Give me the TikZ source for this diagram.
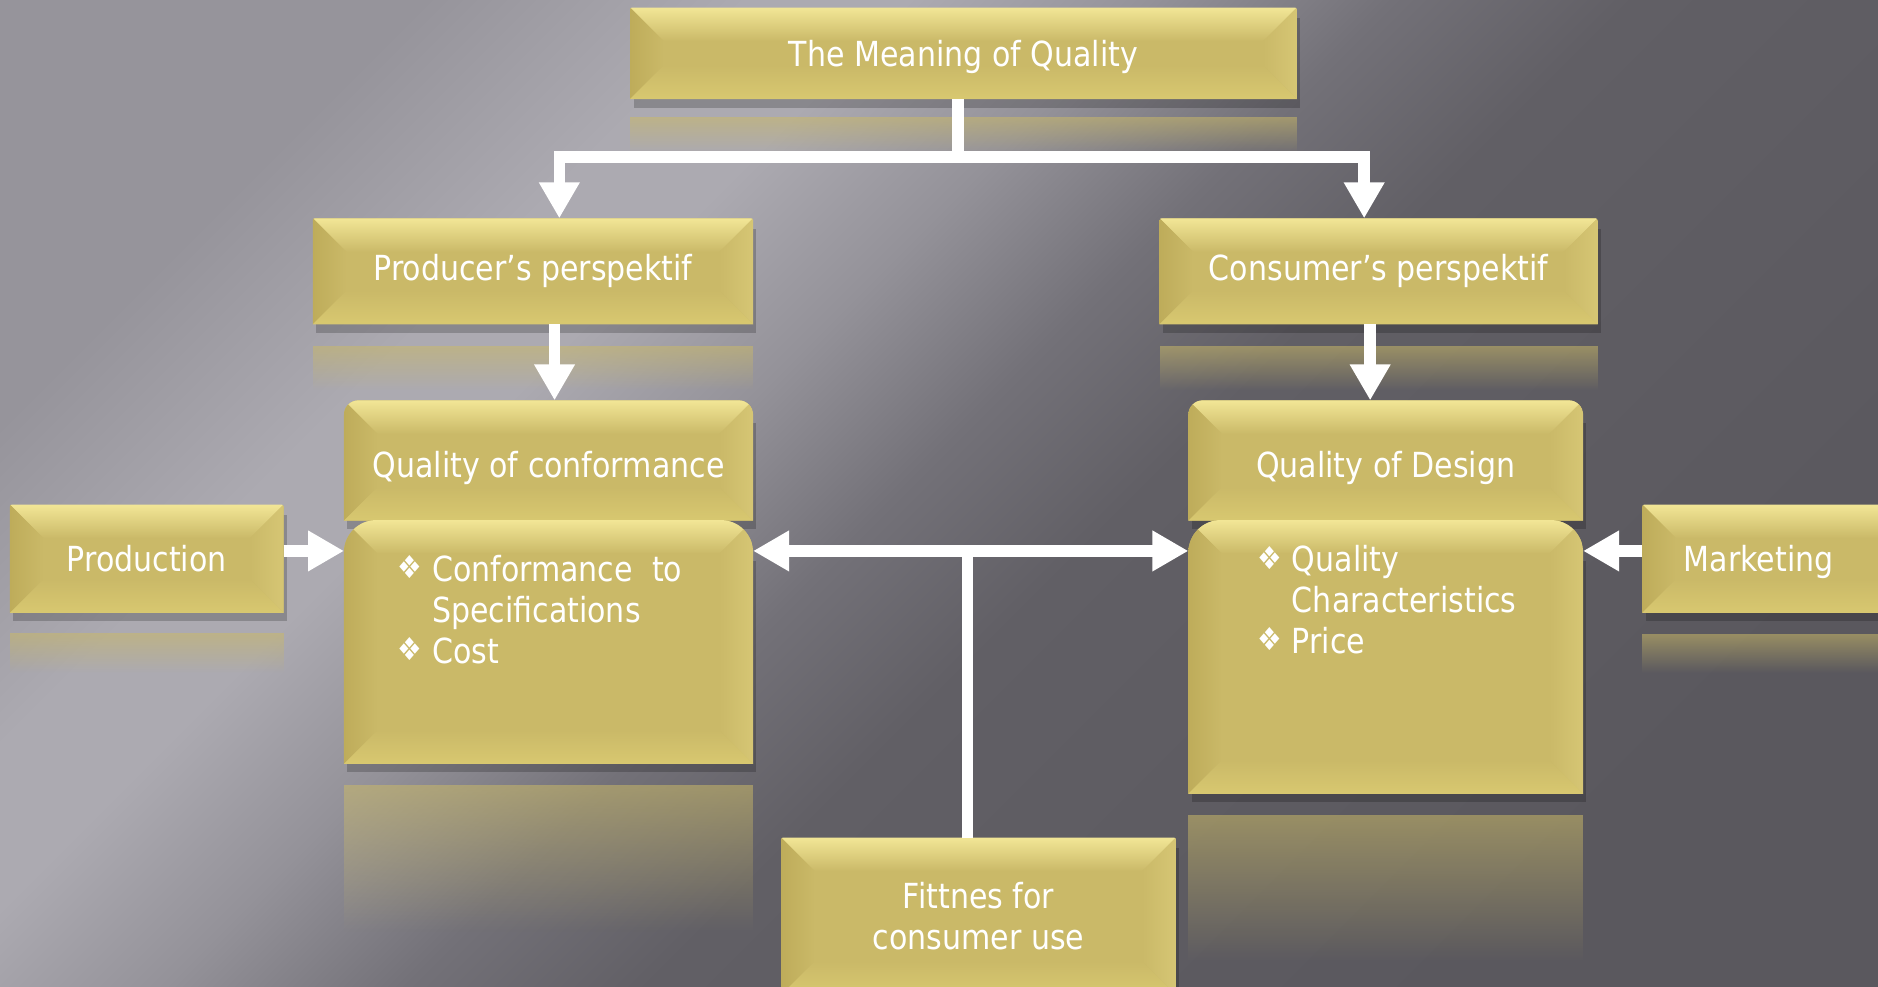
\documentclass[tikz,border=0pt]{standalone}
\usepackage{fontspec}
\setmainfont{DejaVu Sans}[FakeStretch=0.87]
\usetikzlibrary{arrows.meta,fadings,calc}
\pgfdeclarelayer{back}
\pgfdeclarelayer{bg}
\pgfsetlayers{back,bg,main}
\definecolor{gbase}{RGB}{202,185,104}
\definecolor{glight}{RGB}{242,230,150}
\definecolor{gleft}{RGB}{190,172,90}
\definecolor{gright}{RGB}{214,198,116}
\definecolor{gbot}{RGB}{216,200,112}
\definecolor{bgA}{RGB}{150,148,155}
\definecolor{bgB}{RGB}{172,170,177}
\definecolor{bgC}{RGB}{172,170,177}
\definecolor{bgD}{RGB}{148,146,153}
\definecolor{bgE}{RGB}{115,113,120}
\definecolor{bgF}{RGB}{97,95,101}
\definecolor{bgG}{RGB}{90,88,94}
\pgfdeclarehorizontalshading{bgsh}{100bp}{color(0bp)=(bgA); color(25bp)=(bgA); color(33bp)=(bgB); color(37bp)=(bgC); color(43bp)=(bgD); color(49bp)=(bgE); color(55bp)=(bgF); color(75bp)=(bgG); color(100bp)=(bgG)}
\tikzfading[name=reflfade, top color=transparent!45, bottom color=transparent!100]
\newcommand\tfont{\fontsize{8.2}{9.7}\selectfont}
\newcommand\bul{\raisebox{0.15ex}{\fontsize{7.5}{7.5}\selectfont ❖}}
\newcommand\dropby[2]{\raisebox{-#1}[\height][\depth]{#2}}
\newcommand\bvw{0.28cm}
\newcommand\gbox[2]{%
  \fill[black,opacity=0.2] ([xshift=0.8pt,yshift=-2pt]#1.south west) rectangle ([xshift=0.8pt,yshift=-2pt-#2]#1.north east);
  \begin{scope}
    \clip (#1.south west) -- ([yshift=-#2]#1.north west) arc[start angle=180,end angle=90,radius=#2] -- ([xshift=-#2]#1.north east) arc[start angle=90,end angle=0,radius=#2] -- (#1.south east) -- cycle;
    \fill[gbase] (#1.south west) rectangle (#1.north east);
    \shade[top color=glight,bottom color=gbase] (#1.north west) -- (#1.north east) -- ([xshift=-\bvw,yshift=-\bvw]#1.north east) -- ([xshift=\bvw,yshift=-\bvw]#1.north west) -- cycle;
    \shade[left color=gleft,right color=gbase] (#1.north west) -- ([xshift=\bvw,yshift=-\bvw]#1.north west) -- ([xshift=\bvw,yshift=\bvw]#1.south west) -- (#1.south west) -- cycle;
    \shade[right color=gright,left color=gbase] (#1.north east) -- ([xshift=-\bvw,yshift=-\bvw]#1.north east) -- ([xshift=-\bvw,yshift=\bvw]#1.south east) -- (#1.south east) -- cycle;
    \shade[bottom color=gbot,top color=gbase] (#1.south west) -- (#1.south east) -- ([xshift=-\bvw,yshift=\bvw]#1.south east) -- ([xshift=\bvw,yshift=\bvw]#1.south west) -- cycle;
  \end{scope}}
\newcommand\refl[3]{\fill[gbase, path fading=reflfade] ([yshift=-#2]#1.south west) rectangle ([yshift=-#3]#1.south east);}
\tikzset{
  bx/.style={inner sep=0pt, text=white, align=center, font=\tfont},
  wl/.style={draw=white, line width=0.095cm, line join=miter},
  arr/.style={wl, -{Triangle[width=0.32cm,length=0.30cm]}},
  darr/.style={wl, {Triangle[width=0.32cm,length=0.30cm]}-{Triangle[width=0.32cm,length=0.30cm]}}
}
\begin{document}
\begin{tikzpicture}[x=0.01cm,y=0.01cm]
\useasboundingbox (0,0) rectangle (1568,-824);
\begin{pgfonlayer}{back}
  \shade[shading=bgsh, shading angle=-45] (0,0) rectangle (1568,-824);
\end{pgfonlayer}

\node[bx, minimum width=5.55cm, minimum height=0.75cm] (top) at (804.5,-44.5) {\dropby{0.03cm}{The Meaning of Quality}};
\node[bx, minimum width=3.66cm, minimum height=0.87cm] (prod) at (445,-226.5) {Producer’s perspektif};
\node[bx, minimum width=3.64cm, minimum height=0.87cm] (cons) at (1151,-226.5) {Consumer’s perspektif};
\node[bx, minimum width=3.40cm, minimum height=0.99cm] (qc) at (458,-384.5) {\dropby{0.06cm}{Quality of conformance}};
\node[bx, minimum width=3.40cm, minimum height=2.02cm] (qcb) at (458,-536) {};
\node[bx, minimum width=3.28cm, minimum height=0.99cm] (qd) at (1157,-384.5) {\dropby{0.06cm}{Quality of Design}};
\node[bx, minimum width=3.28cm, minimum height=2.27cm] (qdb) at (1157,-548.5) {};
\node[bx, minimum width=2.27cm, minimum height=0.89cm] (prn) at (122.5,-466.5) {Production};
\node[bx, text width=1.60cm, align=left, inner xsep=0.34cm, minimum height=0.89cm] (mkt) at (1486,-466.5) {\dropby{0.03cm}{Marketing}};
\node[bx, minimum width=3.28cm, minimum height=1.30cm] (fit) at (817,-765) {Fittnes for\\consumer use};

\node[bx, anchor=north west] (ltx) at (331,-461) {\begin{tabular}{@{}p{0.29cm}@{}l@{}}\bul & Conformance\ \ to\\ & Specifications\\ \bul & Cost\end{tabular}};
\node[bx, anchor=north west] (rtx) at (1049,-453) {\begin{tabular}{@{}p{0.29cm}@{}l@{}}\bul & Quality\\ & Characteristics\\ \bul & Price\end{tabular}};

\begin{pgfonlayer}{bg}
  \refl{top}{0.15cm}{0.45cm}
  \refl{prod}{0.18cm}{0.55cm}
  \refl{cons}{0.18cm}{0.55cm}
  \refl{prn}{0.17cm}{0.50cm}
  \refl{mkt}{0.18cm}{0.50cm}
  \refl{qcb}{0.18cm}{1.40cm}
  \refl{qdb}{0.18cm}{1.40cm}
  \gbox{top}{0.5pt}
  \gbox{prod}{0.5pt}
  \gbox{cons}{0.5pt}
  \gbox{prn}{0.5pt}
  \gbox{mkt}{0.5pt}
  \gbox{fit}{0.5pt}
  \gbox{qc}{0.12cm}
  \gbox{qcb}{0.27cm}
  \gbox{qd}{0.12cm}
  \gbox{qdb}{0.27cm}
\end{pgfonlayer}

\coordinate (hub) at (800,-131);
\coordinate (pl) at (467,-131);
\coordinate (pr) at (1139,-131);
\coordinate (cl) at (463,0);
\coordinate (cr) at (1144,0);
\coordinate (hy) at (808,-460);

\draw[wl] (top.south -| hub) -- (hub);
\draw[arr] (hub) -- (pl) -- (pl |- prod.north);
\draw[arr] (hub) -- (pr) -- (pr |- cons.north);
\draw[arr] (prod.south -| cl) -- (qc.north -| cl);
\draw[arr] (cons.south -| cr) -- (qd.north -| cr);
\draw[arr] (prn.east |- hy) -- (qcb.west |- hy);
\draw[arr] (mkt.west |- hy) -- (qdb.east |- hy);
\draw[darr] (qcb.east |- hy) -- (qdb.west |- hy);
\draw[wl] (hy) -- (hy |- fit.north);
\end{tikzpicture}
\end{document}
